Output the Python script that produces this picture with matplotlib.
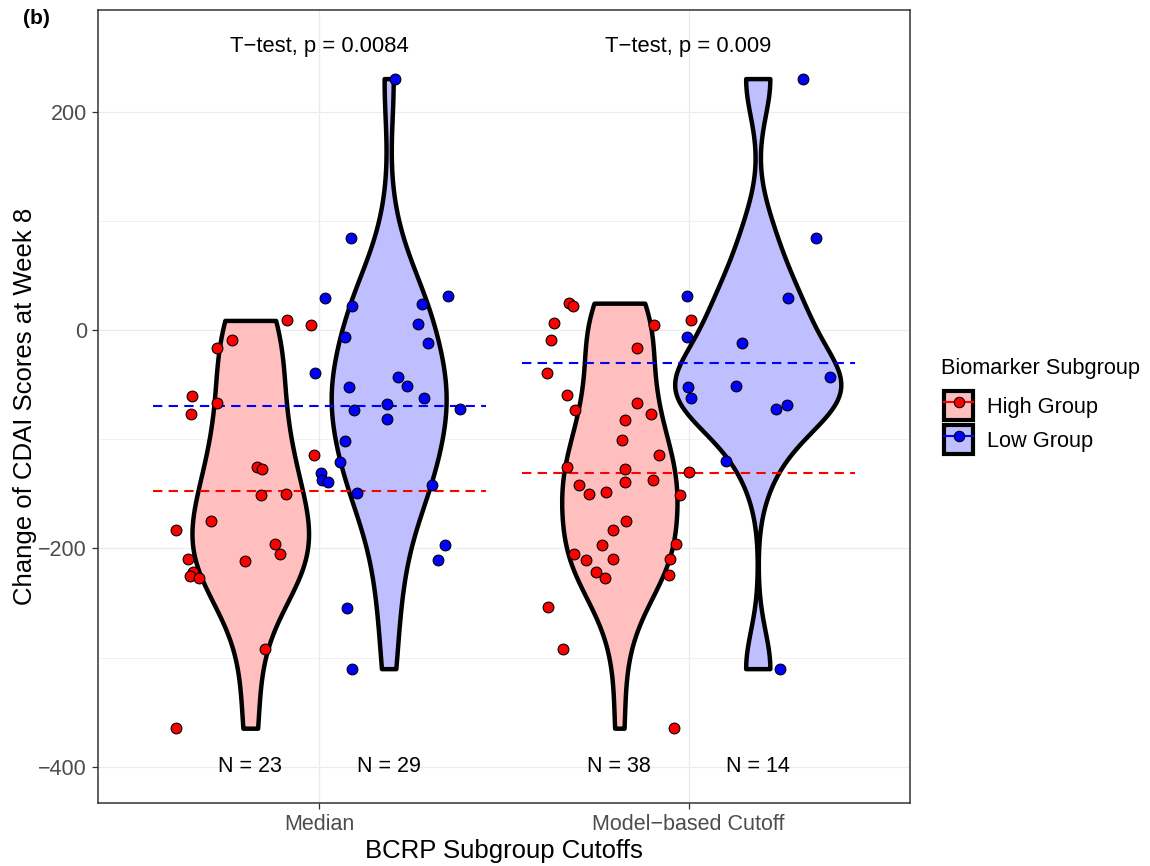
#Violin chart of CDAI change by BCRP subgroup cutoff
#--------------------------------------------------------
import numpy as np
import matplotlib
matplotlib.use("Agg")
import matplotlib.pyplot as plt
from matplotlib.patches import Patch
from matplotlib.lines import Line2D
from matplotlib.legend_handler import HandlerTuple

plt.rcParams['font.family'] = ['Liberation Sans', 'DejaVu Sans']

#Data
#--------------------------------------------------------
cutoffs = ["Median", "Model\u2212based Cutoff"]
groups = ["High Group", "Low Group"]
pvalues = ["0.0084", "0.009"]

median_high = [8.8, 4.8, -9.5, -16.4, -60.2, -66.9, -77.2, -114.6, -125.8, -127.1,
               -151.1, -149.9, -174.8, -182.7, -195.8, -204.9, -211.0, -209.4,
               -221.6, -225.2, -227.1, -292.4, -364.5]
median_high_jit = [0.100, 0.165, -0.049, -0.089, -0.157, -0.089, -0.160, 0.172, 0.018,
                   0.031, 0.029, 0.096, -0.105, -0.201, 0.068, 0.081, -0.015, -0.168,
                   -0.156, -0.162, -0.140, 0.039, -0.201]

median_low = [230.2, 84.5, 29.7, 21.8, 31.6, 23.6, 5.8, -6.2, -11.9, -39.1, -43.3,
              -51.3, -52.4, -62.2, -67.9, -73.2, -72.5, -81.9, -101.2, -120.5, -131.1,
              -137.1, -139.1, -149.6, -142.1, -197.0, -210.2, -254.4, -310.0]
median_low_jit = [0.018, -0.102, -0.173, -0.098, 0.161, 0.091, 0.080, -0.117, 0.107,
                  -0.199, 0.025, 0.051, -0.107, 0.097, -0.004, -0.094, 0.192, -0.005,
                  -0.117, -0.133, -0.183, -0.180, -0.164, -0.085, 0.117, 0.154, 0.134,
                  -0.113, -0.099]

model_high = [24.6, 22.2, 6.0, 4.8, -9.1, -16.1, -38.9, -59.9, -73.0, -66.9, -76.9,
              -82.1, -100.9, -114.6, -125.8, -126.8, -138.9, -137.1, -142.0, -150.2,
              -148.6, -150.8, -174.8, -182.7, -196.7, -195.8, -204.9, -210.6, -209.7,
              -209.4, -221.6, -226.8, -224.7, -253.5, -292.1, -364.5, 8.8, -130.4]
model_high_jit = [-0.137, -0.126, -0.178, 0.094, -0.185, 0.048, -0.196, -0.143, -0.119,
                  0.047, 0.086, 0.014, 0.006, 0.108, -0.142, 0.015, 0.015, 0.091,
                  -0.108, -0.081, -0.035, 0.164, 0.017, -0.016, -0.046, 0.153, -0.123,
                  -0.091, -0.016, 0.136, -0.062, -0.038, 0.134, -0.194, -0.152, 0.148,
                  0.193, 0.188]

model_low = [230.2, 84.5, 31.6, 29.7, -6.2, -12.3, -43.3, -52.0, -50.9, -62.2, -68.3,
             -72.5, -120.1, -310.0]
model_low_jit = [0.122, 0.159, -0.191, 0.081, -0.191, -0.042, 0.195, -0.188, -0.059,
                 -0.182, 0.079, 0.050, -0.085, 0.059]

#Style constants
#--------------------------------------------------------
fills = {"High Group": "#FFBFBF", "Low Group": "#BFBFFF"}
dots = {"High Group": "#FF0000", "Low Group": "#0000FF"}
dodge = 0.1875
vwidth = 0.225

#Helper functions
#--------------------------------------------------------
def bwNrd0(x):
    #same rule as R's bw.nrd0
    x = np.asarray(x)
    hi = np.std(x, ddof=1)
    iqr = np.subtract(*np.percentile(x, [75, 25]))
    lo = min(hi, iqr / 1.34)
    return 0.9 * lo * len(x) ** (-0.2)

def density(x, grid):
    x = np.asarray(x)
    bw = bwNrd0(x)
    z = (grid[:, None] - x[None, :]) / bw
    return np.exp(-0.5 * z ** 2).sum(axis=1) / (len(x) * bw * np.sqrt(2 * np.pi))

#Build group table
#--------------------------------------------------------
table = [
    (0, "High Group", median_high, median_high_jit),
    (0, "Low Group", median_low, median_low_jit),
    (1, "High Group", model_high, model_high_jit),
    (1, "Low Group", model_low, model_low_jit),
]

curves = []
for ci, g, vals, jit in table:
    grid = np.linspace(min(vals), max(vals), 512)
    curves.append((grid, density(vals, grid)))
dmax = max(d.max() for _, d in curves)

#Plot
#--------------------------------------------------------
fig = plt.figure(figsize=(11.5, 8.66), dpi=100)
ax = fig.add_axes([98 / 1150, 63 / 866, 812 / 1150, 793 / 866])

for (ci, g, vals, jit), (grid, dens) in zip(table, curves):
    xc = ci + 1 + (-dodge if g == "High Group" else dodge)
    half = dens / dmax * vwidth
    ax.fill_betweenx(grid, xc - half, xc + half, facecolor=fills[g],
                     edgecolor="black", linewidth=3.2, zorder=2)
    m = np.mean(vals)
    ax.plot([ci + 1 - 0.45, ci + 1 + 0.45], [m, m], color=dots[g],
            linestyle=(0, (4.5, 3.0)), linewidth=1.5, zorder=3)
    ax.scatter(xc + np.asarray(jit), vals, s=60, color=dots[g],
               edgecolors="black", linewidths=0.8, zorder=4)
    ax.text(xc, -400, "N = %d" % len(vals), ha="center", va="center",
            fontsize=15.5, zorder=5)

for ci, p in enumerate(pvalues):
    ax.text(ci + 1, 260, "T\u2212test, p = " + p, ha="center", va="center",
            fontsize=15.8, zorder=5)

ax.set_xlim(0.4, 2.6)
ax.set_ylim(-433, 293)
ax.set_xticks([1, 2])
ax.set_xticklabels(cutoffs)
ax.set_yticks([-400, -200, 0, 200])
ax.set_yticks([-300, -100, 100], minor=True)
ax.grid(True, which="major", color="#EBEBEB", linewidth=0.9)
ax.grid(True, which="minor", axis="y", color="#EBEBEB", linewidth=0.5)
ax.set_axisbelow(True)
ax.tick_params(axis="both", which="major", length=4.5, width=0.9, color="#333333",
               labelsize=15.5, labelcolor="#4D4D4D", pad=3.5)
ax.tick_params(axis="both", which="minor", length=0)
for sp in ax.spines.values():
    sp.set_color("#333333")
    sp.set_linewidth(1.1)

ax.set_xlabel("BCRP Subgroup Cutoffs", fontsize=18.5)
ax.set_ylabel("Change of CDAI Scores at Week 8", fontsize=18.5)
ax.xaxis.set_label_coords(0.5, -0.045)
ax.yaxis.set_label_coords(-0.075, 0.5)

#Legend
handles = []
for g in groups:
    box = Patch(facecolor=fills[g], edgecolor="black", linewidth=3.0)
    pt = Line2D([], [], color=dots[g], linewidth=1.5, marker="o", markersize=7.5,
                markerfacecolor=dots[g], markeredgecolor="black", markeredgewidth=0.8)
    handles.append((box, pt))
fig.text(941 / 1150, 1 - 369 / 866, "Biomarker Subgroup", fontsize=15.7,
         ha="left", va="center")
leg = ax.legend(handles, groups, loc="upper left",
                bbox_to_anchor=(944 / 1150, 1 - 391 / 866),
                bbox_transform=fig.transFigure, frameon=False, fontsize=15.7,
                handlelength=1.33, handleheight=1.67, handletextpad=0.65,
                labelspacing=0.25, borderpad=0, borderaxespad=0,
                handler_map={tuple: HandlerTuple(ndivide=1, pad=0)})

fig.text(36 / 1150, 1 - 19 / 866, "(b)", fontsize=15, fontweight="bold",
         ha="center", va="center")

fig.savefig("out.png", dpi=100)
